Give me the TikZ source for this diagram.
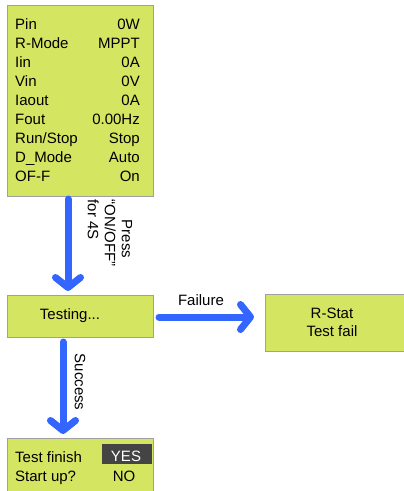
\documentclass[tikz,border=0pt]{standalone}
\usepackage{fontspec}
\setmainfont{Liberation Sans}
\usetikzlibrary{arrows.meta}
\definecolor{lcd}{RGB}{212,229,98}
\definecolor{lcdborder}{RGB}{160,160,160}
\definecolor{flowblue}{RGB}{51,102,255}
\definecolor{selbg}{RGB}{68,68,68}
\tikzset{
  lcdbox/.style={draw=lcdborder, fill=lcd, line width=0.8pt},
  flow/.style={draw=flowblue, line width=7pt, line cap=round,
    -{Straight Barb[round, length=10pt, width=25pt]}},
  txt/.style={font=\fontsize{15pt}{18pt}\selectfont, inner sep=0pt},
  lbl/.style={font=\fontsize{15pt}{17pt}\selectfont, inner sep=0pt},
}
\begin{document}
\begin{tikzpicture}[x=1pt, y=-1pt]
\useasboundingbox (0,0) rectangle (404,491);
% top menu box
\node[lcdbox, minimum width=146pt, minimum height=191pt, anchor=north west] (menu) at (7,5) {};
\foreach \i/\l/\r in {0/Pin/0W, 1/R-Mode/MPPT, 2/Iin/0A, 3/Vin/0V, 4/Iaout/0A, 5/Fout/0.00Hz, 6/Run\slash Stop/Stop, 7/D\_Mode/Auto, 8/OF-F/On}{
  \node[txt, anchor=base west] (l\i) at (15,{29+19*\i}) {\l};
  \node[txt, anchor=base east] (r\i) at (140,{29+19*\i}) {\r};
}
% testing box
\node[lcdbox, minimum width=146pt, minimum height=42pt, anchor=north west] (test) at (7,295) {};
\node[txt] (testt) at (70,316) {Testing...};
% failure box
\node[lcdbox, minimum width=145pt, minimum height=57pt, anchor=north west] (fail) at (265,294) {};
\node[txt, align=center] (failt) at (332,322) {R-Stat\\Test fail};
% finish box
\node[lcdbox, minimum width=146pt, minimum height=60pt, anchor=north west] (fin) at (7,438) {};
\node[fill=selbg, minimum width=50pt, minimum height=20pt, anchor=north west, inner sep=0pt] (yesbg) at (102,444) {};
\node[txt, anchor=base west] (tf) at (15,462) {Test finish};
\node[txt, anchor=base west] (su) at (15,481) {Start up?};
\node[txt, anchor=base, text=white] (yes) at (126,461) {YES};
\node[txt, anchor=base] (no) at (124,481) {NO};
% connectors
\coordinate (a1s) at (68,199);
\coordinate (a1e) at (68,291);
\draw[flow] (a1s) -- (a1e);
\coordinate (a2s) at (159,317);
\coordinate (a2e) at (254,317);
\draw[flow] (a2s) -- (a2e);
\coordinate (a3s) at (63,342);
\coordinate (a3e) at (63,434);
\draw[flow] (a3s) -- (a3e);
% labels
\node[lbl, rotate=-90, align=left] (press) at (110,233) {\hspace*{20pt}Press\\``ON/OFF''\\for 4S};
\node[lbl] (failure) at (201,300) {Failure};
\node[lbl, rotate=-90] (success) at (80,382) {Success};
\end{tikzpicture}
\end{document}
